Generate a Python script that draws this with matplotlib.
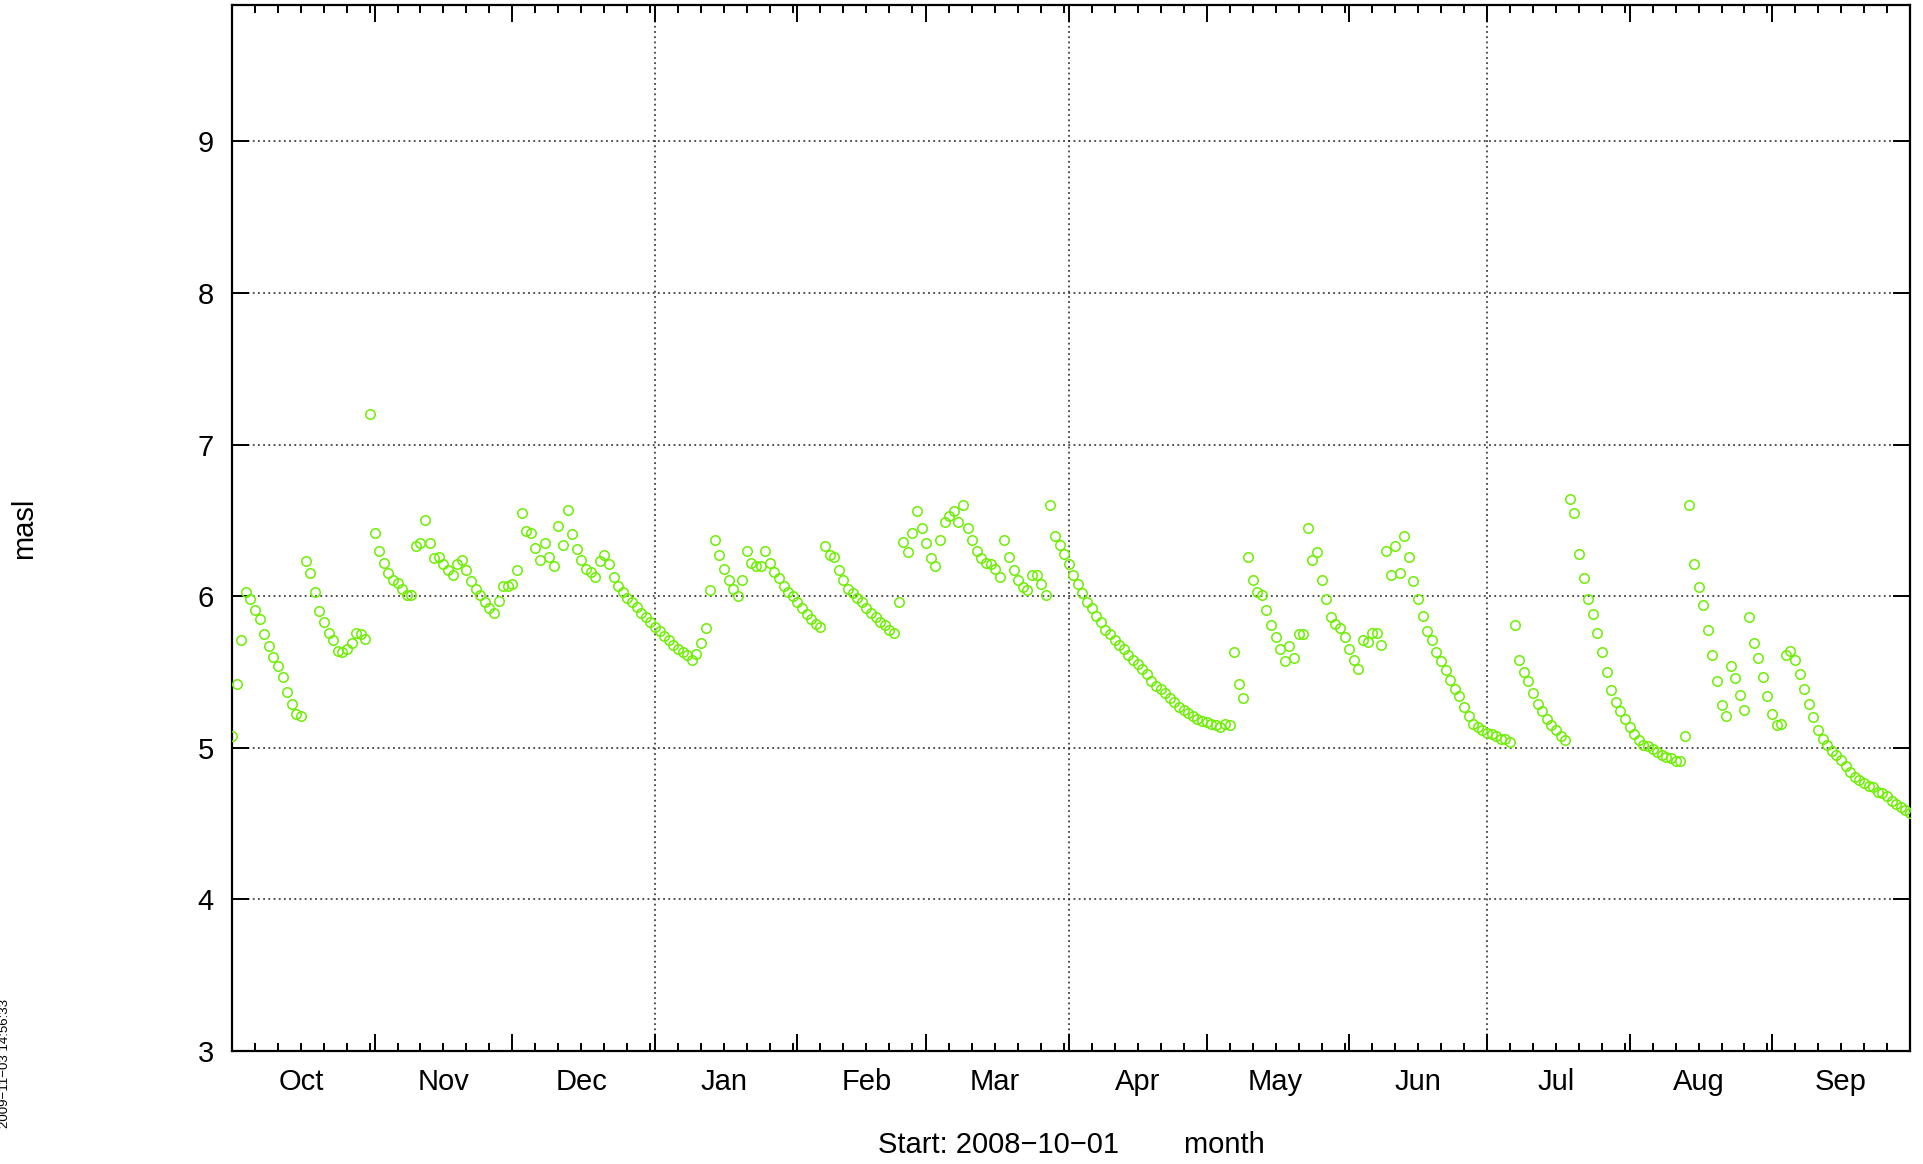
import matplotlib
matplotlib.use("Agg")
import matplotlib.pyplot as plt
import matplotlib.dates as mdates
import matplotlib.transforms as mtrans
import pandas as pd

plt.rcParams['font.family'] = ['Liberation Sans', 'DejaVu Sans']

START = "2008-10-01"
# daily water level (masl), 2008-10-01 .. 2009-10-01
LEVEL = [
    5.08, 5.42, 5.71, 6.03, 5.98, 5.91, 5.85, 5.75, 5.67, 5.60,
    5.54, 5.47, 5.37, 5.29, 5.22, 5.21, 6.23, 6.15, 6.03, 5.90,
    5.83, 5.76, 5.71, 5.64, 5.63, 5.65, 5.69, 5.76, 5.75, 5.72,
    7.20, 6.42, 6.30, 6.22, 6.15, 6.11, 6.09, 6.05, 6.01, 6.01,
    6.33, 6.35, 6.50, 6.35, 6.25, 6.26, 6.21, 6.17, 6.14, 6.21,
    6.24, 6.17, 6.10, 6.05, 6.01, 5.96, 5.92, 5.89, 5.97, 6.07,
    6.07, 6.08, 6.17, 6.55, 6.43, 6.42, 6.32, 6.24, 6.35, 6.26,
    6.20, 6.46, 6.34, 6.57, 6.41, 6.31, 6.24, 6.18, 6.16, 6.13,
    6.23, 6.27, 6.21, 6.13, 6.07, 6.03, 5.99, 5.96, 5.93, 5.89,
    5.86, 5.83, 5.80, 5.77, 5.74, 5.71, 5.68, 5.65, 5.63, 5.61,
    5.58, 5.62, 5.69, 5.79, 6.04, 6.37, 6.27, 6.18, 6.11, 6.05,
    6.00, 6.11, 6.30, 6.22, 6.20, 6.20, 6.30, 6.22, 6.16, 6.12,
    6.07, 6.03, 6.00, 5.96, 5.92, 5.88, 5.85, 5.82, 5.80, 6.33,
    6.27, 6.26, 6.17, 6.11, 6.05, 6.02, 5.99, 5.96, 5.92, 5.89,
    5.86, 5.83, 5.81, 5.78, 5.76, 5.96, 6.36, 6.29, 6.42, 6.56,
    6.45, 6.35, 6.25, 6.20, 6.37, 6.49, 6.53, 6.56, 6.49, 6.60,
    6.45, 6.37, 6.30, 6.25, 6.22, 6.21, 6.18, 6.13, 6.37, 6.26,
    6.17, 6.11, 6.06, 6.04, 6.14, 6.14, 6.08, 6.01, 6.60, 6.40,
    6.34, 6.28, 6.21, 6.14, 6.08, 6.02, 5.96, 5.92, 5.87, 5.83,
    5.78, 5.75, 5.71, 5.68, 5.65, 5.61, 5.58, 5.55, 5.52, 5.49,
    5.44, 5.41, 5.39, 5.36, 5.33, 5.30, 5.27, 5.25, 5.23, 5.21,
    5.19, 5.18, 5.17, 5.16, 5.15, 5.14, 5.16, 5.15, 5.63, 5.42,
    5.33, 6.26, 6.11, 6.03, 6.01, 5.91, 5.81, 5.73, 5.65, 5.57,
    5.67, 5.59, 5.75, 5.75, 6.45, 6.24, 6.29, 6.11, 5.98, 5.86,
    5.82, 5.79, 5.73, 5.65, 5.58, 5.52, 5.71, 5.70, 5.76, 5.76,
    5.68, 6.30, 6.14, 6.33, 6.15, 6.40, 6.26, 6.10, 5.98, 5.87,
    5.77, 5.71, 5.63, 5.57, 5.51, 5.45, 5.39, 5.34, 5.27, 5.21,
    5.16, 5.14, 5.12, 5.10, 5.09, 5.08, 5.06, 5.06, 5.04, 5.81,
    5.58, 5.50, 5.44, 5.36, 5.29, 5.24, 5.19, 5.15, 5.12, 5.08,
    5.05, 6.64, 6.55, 6.28, 6.12, 5.98, 5.88, 5.76, 5.63, 5.50,
    5.38, 5.30, 5.24, 5.19, 5.14, 5.09, 5.05, 5.02, 5.01, 4.99,
    4.97, 4.95, 4.94, 4.93, 4.91, 4.91, 5.08, 6.60, 6.21, 6.06,
    5.94, 5.78, 5.61, 5.44, 5.28, 5.21, 5.54, 5.46, 5.35, 5.25,
    5.86, 5.69, 5.59, 5.47, 5.34, 5.22, 5.15, 5.16, 5.61, 5.64,
    5.58, 5.49, 5.39, 5.29, 5.20, 5.12, 5.06, 5.02, 4.98, 4.95,
    4.92, 4.88, 4.84, 4.81, 4.79, 4.77, 4.75, 4.74, 4.71, 4.70,
    4.68, 4.65, 4.63, 4.61, 4.59, 4.57,
]
MONTHS = ["Oct", "Nov", "Dec", "Jan", "Feb", "Mar",
          "Apr", "May", "Jun", "Jul", "Aug", "Sep"]
GRID_DATES = ["2009-01-01", "2009-04-01", "2009-07-01"]
Y_TICKS = [3, 4, 5, 6, 7, 8, 9]

dates = pd.date_range(START, periods=len(LEVEL), freq="D")
month_mid = pd.date_range(START, periods=len(MONTHS), freq="MS") + pd.Timedelta(days=15)

W, H = 1923, 1164
FS = 21
fig = plt.figure(figsize=(W / 100, H / 100), dpi=100)
ax = fig.add_axes([232 / W, 1 - 1051 / H, (1910 - 232) / W, (1051 - 5) / H])

ax.plot(dates, LEVEL, linestyle="none", marker="o", ms=6.8, mfc="none",
        mec="#6cf000", mew=1.1, zorder=3)

ax.set_xlim(pd.Timestamp(START), dates[-1])
ax.set_ylim(3, 9.9)

# gnuplot-like frame and ticks
for sp in ax.spines.values():
    sp.set_linewidth(1.6)
ax.set_yticks(Y_TICKS)
ax.tick_params(axis="y", which="major", direction="in", length=12, width=1.4,
               labelsize=FS, pad=13, left=True, right=True)
ax.xaxis.set_major_locator(mdates.MonthLocator(bymonthday=1))
ax.xaxis.set_minor_locator(mdates.DayLocator(bymonthday=[6, 11, 16, 21, 26, 31]))
ax.xaxis.set_major_formatter(plt.NullFormatter())
ax.tick_params(axis="x", which="major", direction="in", length=12, width=1.4,
               top=True, bottom=True)
ax.tick_params(axis="x", which="minor", direction="in", length=6, width=1.4,
               top=True, bottom=True)

grid_style = dict(color="#222222", linestyle=(0, (1.2, 2.2)), linewidth=1.1)
ax.yaxis.grid(True, **grid_style)
for g in GRID_DATES:
    ax.axvline(pd.Timestamp(g), zorder=1, **grid_style)

trans = mtrans.blended_transform_factory(ax.transData, fig.transFigure)
for m, d in zip(MONTHS, month_mid):
    ax.text(d, 1 - 1082 / H, m, transform=trans, ha="center", va="center",
            fontsize=FS)

fig.text(1071 / W, 1 - 1145 / H, "Start: 2008\u221210\u221201        month",
         ha="center", va="center", fontsize=FS)
fig.text(24 / W, 1 - 528 / H, "masl", rotation=90, ha="center", va="center",
         fontsize=FS)
fig.text(5 / W, 1 - 1064 / H, "2009\u221211\u221203 14:56:33", rotation=90,
         ha="center", va="center", fontsize=9.5)

fig.savefig("out.png", dpi=100)
